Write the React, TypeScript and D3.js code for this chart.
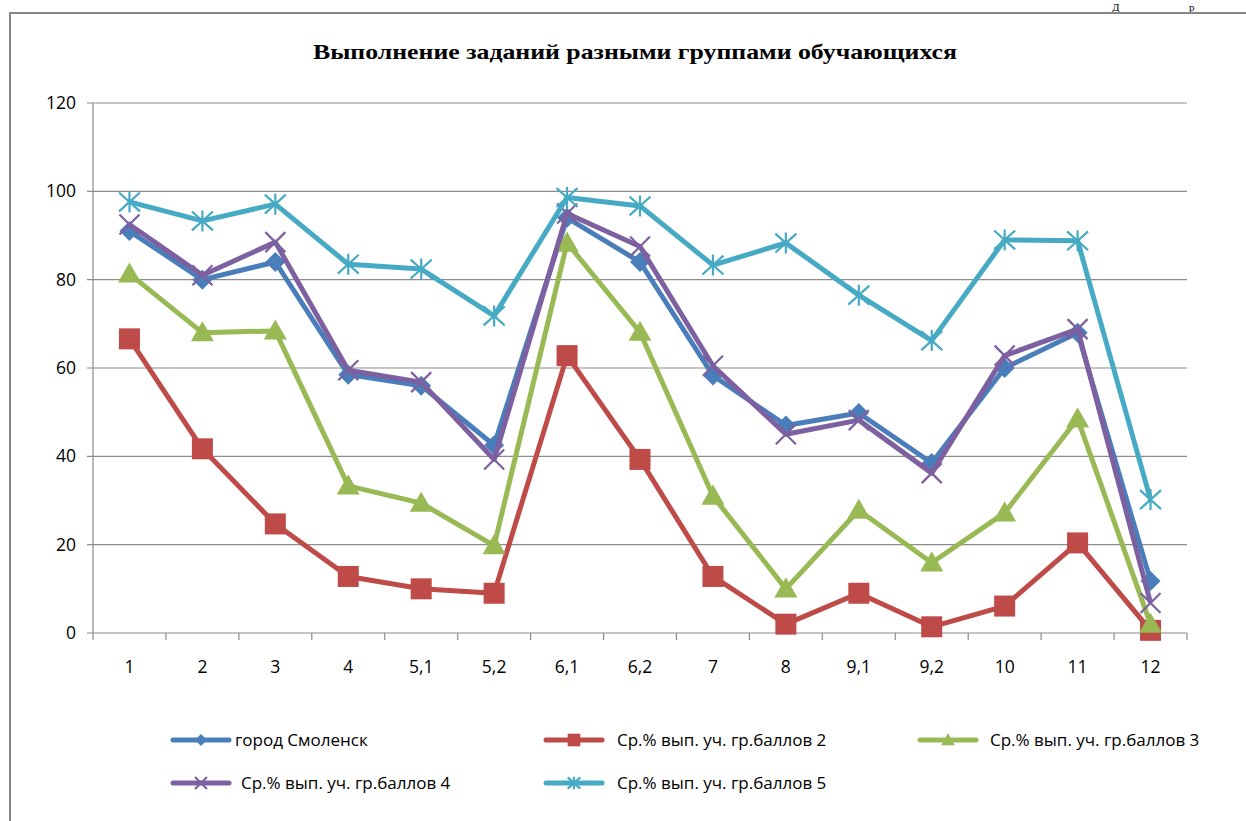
import React from "react";
import * as d3 from "d3";

const categories = ["1", "2", "3", "4", "5,1", "5,2", "6,1", "6,2", "7", "8", "9,1", "9,2", "10", "11", "12"];
const yTicks = [0, 20, 40, 60, 80, 100, 120];

const smolensk = [91, 80, 84, 58.5, 56, 42.5, 94, 84, 58.3, 47, 49.8, 38.5, 60, 68, 11.8];
const group2 = [66.6, 41.7, 24.7, 12.8, 10, 9, 62.8, 39.3, 12.8, 2, 9, 1.4, 6.1, 20.4, 0.6];
const group3 = [81.3, 68, 68.4, 33.3, 29.4, 19.8, 88.3, 68.1, 31, 10, 27.8, 15.9, 27.2, 48.5, 2];
const group4 = [92.5, 81, 88.5, 59.5, 56.8, 39.3, 95, 87.5, 60.5, 45, 48.2, 36.2, 62.8, 68.8, 6.8];
const group5 = [97.6, 93.3, 97.1, 83.5, 82.4, 71.8, 98.6, 96.7, 83.3, 88.3, 76.5, 66.2, 89, 88.8, 30.2];

const seriesNames = [
  "город Смоленск",
  "Ср.% вып. уч. гр.баллов 2",
  "Ср.% вып. уч. гр.баллов 3",
  "Ср.% вып. уч. гр.баллов 4",
  "Ср.% вып. уч. гр.баллов 5",
];

const series = [
  { name: seriesNames[0], values: smolensk, color: "#4a7ebb", marker: "diamond" },
  { name: seriesNames[1], values: group2, color: "#be4b48", marker: "square" },
  { name: seriesNames[2], values: group3, color: "#98b954", marker: "triangle" },
  { name: seriesNames[3], values: group4, color: "#7d60a0", marker: "x" },
  { name: seriesNames[4], values: group5, color: "#46aac5", marker: "star" },
];

const font = "'Open Sans', 'Noto Sans', sans-serif";

// маркер в точке (cx, cy), s - масштаб
function Marker({ type, cx, cy, color, s = 1 }: { type: string; cx: number; cy: number; color: string; s?: number }) {
  if (type === "diamond") {
    const r = 10 * s;
    return <path d={`M${cx},${cy - r}L${cx + r},${cy}L${cx},${cy + r}L${cx - r},${cy}Z`} fill={color} />;
  }
  if (type === "square") {
    const h = 10.5 * s;
    return <rect x={cx - h} y={cy - h} width={2 * h} height={2 * h} fill={color} />;
  }
  if (type === "triangle") {
    const r = 11.5 * s;
    return <path d={`M${cx},${cy - r}L${cx + r},${cy + r * 0.75}L${cx - r},${cy + r * 0.75}Z`} fill={color} />;
  }
  if (type === "x") {
    const r = 10 * s;
    return (
      <path
        d={`M${cx - r},${cy - r}L${cx + r},${cy + r}M${cx - r},${cy + r}L${cx + r},${cy - r}`}
        stroke={color}
        strokeWidth={2.2}
        fill="none"
      />
    );
  }
  const r = 10.5 * s;
  return (
    <path
      d={`M${cx - r},${cy - r * 0.9}L${cx + r},${cy + r * 0.9}M${cx - r},${cy + r * 0.9}L${cx + r},${cy - r * 0.9}M${cx},${cy - r}L${cx},${cy + r}`}
      stroke={color}
      strokeWidth={2.2}
      fill="none"
    />
  );
}

export default function App() {
  const width = 1246;
  const height = 821;
  const plot = { left: 93, right: 1187, top: 103, bottom: 633 };

  const x = d3.scaleBand().domain(categories).range([plot.left, plot.right]);
  const y = d3.scaleLinear().domain([0, 120]).range([plot.bottom, plot.top]);
  const cx = (c: string) => (x(c) as number) + x.bandwidth() / 2;

  const line = d3
    .line<number>()
    .x((_, i) => cx(categories[i]))
    .y((d) => y(d));

  const legendPos = [
    { lx: 173, ty: 740 },
    { lx: 546, ty: 740 },
    { lx: 920, ty: 740 },
    { lx: 173, ty: 783 },
    { lx: 546, ty: 783 },
  ];
  const legendTextX = [235, 617, 990, 241, 617];

  const boundaries = categories.map((c) => x(c) as number).concat([plot.right]);

  return (
    <svg
      width={width}
      height={height}
      style={{ position: "fixed", left: 0, top: 0, background: "#fff" }}
    >
      <rect x={0} y={0} width={width} height={height} fill="#fff" />
      {/* остаток текста документа над диаграммой */}
      <text x={1112} y={11} fontFamily="'Liberation Serif', serif" fontSize={11} fill="#000">
        Д
      </text>
      <text x={1189} y={11} fontFamily="'Liberation Serif', serif" fontSize={11} fill="#000">
        р
      </text>
      <rect x={10} y={13} width={width} height={height} fill="#fff" stroke="#868686" strokeWidth={2} />

      <text
        x={635}
        y={59}
        textAnchor="middle"
        fontFamily="'Liberation Serif', 'DejaVu Serif', serif"
        fontWeight="bold"
        fontSize={21}
        textLength={644}
        lengthAdjust="spacingAndGlyphs"
        fill="#000"
      >
        Выполнение заданий разными группами обучающихся
      </text>

      {/* сетка */}
      {yTicks.map((t) => (
        <g key={t}>
          <line x1={plot.left - 6} x2={plot.right} y1={y(t)} y2={y(t)} stroke="#8c8c8c" strokeWidth={1.2} />
          <text
            x={76}
            y={y(t)}
            dy="0.35em"
            textAnchor="end"
            fontFamily={font}
            fontSize={17.5}
            fill="#000"
          >
            {t}
          </text>
        </g>
      ))}
      <line x1={plot.left} x2={plot.left} y1={plot.top} y2={plot.bottom} stroke="#8c8c8c" strokeWidth={1.2} />
      {boundaries.map((b, i) => (
        <line key={i} x1={b} x2={b} y1={plot.bottom} y2={plot.bottom + 7} stroke="#8c8c8c" strokeWidth={1.2} />
      ))}
      {categories.map((c) => (
        <text key={c} x={cx(c)} y={673} textAnchor="middle" fontFamily={font} fontSize={17.5} fill="#000">
          {c}
        </text>
      ))}

      {/* линии и маркеры */}
      {series.map((s) => (
        <g key={s.name}>
          <path
            d={line(s.values) as string}
            fill="none"
            stroke={s.color}
            strokeWidth={5}
            strokeLinejoin="round"
          />
          {s.values.map((v, i) => (
            <Marker key={i} type={s.marker} cx={cx(categories[i])} cy={y(v)} color={s.color} />
          ))}
        </g>
      ))}

      {/* легенда */}
      {series.map((s, i) => {
        const p = legendPos[i];
        return (
          <g key={s.name}>
            <line
              x1={p.lx}
              x2={p.lx + 56}
              y1={p.ty}
              y2={p.ty}
              stroke={s.color}
              strokeWidth={5}
              strokeLinecap="round"
            />
            <Marker type={s.marker} cx={p.lx + 28} cy={p.ty} color={s.color} s={0.6} />
            <text
              x={legendTextX[i]}
              y={p.ty}
              dy="0.35em"
              fontFamily={font}
              fontSize={17}
              fill="#000"
            >
              {s.name}
            </text>
          </g>
        );
      })}
    </svg>
  );
}
